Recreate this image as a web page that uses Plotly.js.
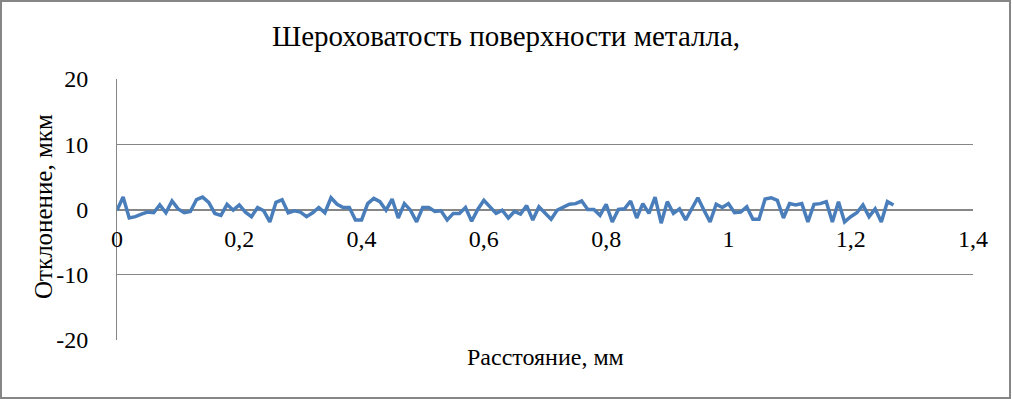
<!DOCTYPE html>
<html>
<head>
<meta charset="utf-8">
<script src="https://cdn.plot.ly/plotly-3.0.1.min.js"></script>
<style>
  html, body { margin: 0; padding: 0; background: #ffffff; }
  #chart { width: 1012px; height: 399px; }
</style>
</head>
<body>
<div id="chart"></div>
<script>
// Distance along the surface, mm
var distanceMm = [
  0.00, 0.01, 0.02, 0.03, 0.04, 0.05, 0.06, 0.07, 0.08, 0.09,
  0.10, 0.11, 0.12, 0.13, 0.14, 0.15, 0.16, 0.17, 0.18, 0.19,
  0.20, 0.21, 0.22, 0.23, 0.24, 0.25, 0.26, 0.27, 0.28, 0.29,
  0.30, 0.31, 0.32, 0.33, 0.34, 0.35, 0.36, 0.37, 0.38, 0.39,
  0.40, 0.41, 0.42, 0.43, 0.44, 0.45, 0.46, 0.47, 0.48, 0.49,
  0.50, 0.51, 0.52, 0.53, 0.54, 0.55, 0.56, 0.57, 0.58, 0.59,
  0.60, 0.61, 0.62, 0.63, 0.64, 0.65, 0.66, 0.67, 0.68, 0.69,
  0.70, 0.71, 0.72, 0.73, 0.74, 0.75, 0.76, 0.77, 0.78, 0.79,
  0.80, 0.81, 0.82, 0.83, 0.84, 0.85, 0.86, 0.87, 0.88, 0.89,
  0.90, 0.91, 0.92, 0.93, 0.94, 0.95, 0.96, 0.97, 0.98, 0.99,
  1.00, 1.01, 1.02, 1.03, 1.04, 1.05, 1.06, 1.07, 1.08, 1.09,
  1.10, 1.11, 1.12, 1.13, 1.14, 1.15, 1.16, 1.17, 1.18, 1.19,
  1.20, 1.21, 1.22, 1.23, 1.24, 1.25, 1.26, 1.27
];

// Deviation of the profile, µm
var deviationUm = [
  -0.1, 1.9, -1.3, -1.1, -0.7, -0.4, -0.5, 0.7, -0.5, 1.3,
   0.1, -0.5, -0.3, 1.5, 1.9, 1.1, -0.6, -0.9, 0.8, -0.1,
   0.7, -0.4, -1.1, 0.3, -0.2, -1.9, 1.1, 1.5, -0.5, -0.2,
  -0.4, -1.1, -0.5, 0.3, -0.5, 1.8, 0.8, 0.3, 0.3, -1.6,
  -1.6, 0.9, 1.7, 1.2, -0.1, 1.6, -1.3, 0.9, -0.1, -1.9,
   0.3, 0.3, -0.3, -0.2, -1.6, -0.6, -0.6, 0.3, -1.8, 0.0,
   1.4, 0.4, -0.6, -0.1, -1.3, -0.3, -0.7, 0.6, -1.6, 0.4,
  -0.6, -1.5, -0.1, 0.4, 0.8, 0.9, 1.3, 0.0, 0.0, -0.9,
   0.8, -1.9, 0.0, 0.1, 1.3, -1.3, 0.9, -0.6, 1.9, -2.1,
   1.2, -0.6, 0.1, -1.6, 0.1, 1.8, -0.1, -1.9, 0.8, 0.3,
   0.9, -0.5, -0.4, 0.4, -1.5, -1.5, 1.6, 1.8, 1.4, -1.3,
   0.9, 0.7, 0.9, -1.9, 0.8, 0.9, 1.2, -1.9, 1.2, -1.9,
  -1.1, -0.5, 0.7, -1.1, 0.1, -1.9, 1.2, 0.7
];

var xTickVals = [0, 0.2, 0.4, 0.6, 0.8, 1, 1.2, 1.4];
var xTickText = ["0", "0,2", "0,4", "0,6", "0,8", "1", "1,2", "1,4"];
var yTickVals = [-20, -10, 0, 10, 20];
var yTickText = ["-20", "-10", "0", "10", "20"];

var chartTitle = "Шероховатость поверхности металла,";
var xTitle = "Расстояние, мм";
var yTitle = "Отклонение, мкм";

var serif = "Liberation Serif";
var axisGray = "#868686";

var trace = {
  x: distanceMm,
  y: deviationUm,
  type: "scatter",
  mode: "lines",
  line: { color: "#4A7EBB", width: 3.5 },
  hoverinfo: "x+y",
  showlegend: false
};

var layout = {
  width: 1012,
  height: 399,
  paper_bgcolor: "#ffffff",
  plot_bgcolor: "#ffffff",
  margin: { l: 117, r: 39, t: 79, b: 59, pad: 0 },
  showlegend: false,
  font: { family: serif, color: "#000000" },
  title: {
    text: chartTitle,
    font: { family: serif, size: 29, color: "#000000" },
    xref: "container", yref: "container",
    x: 0.5, xanchor: "center",
    y: 1 - 36 / 399, yanchor: "middle"
  },
  xaxis: {
    range: [0, 1.4],
    anchor: "free",
    position: 0.5,
    tickmode: "array",
    tickvals: xTickVals,
    ticktext: xTickText,
    ticks: "",
    ticklabelstandoff: 8,
    showline: true,
    linecolor: axisGray,
    linewidth: 1,
    showgrid: false,
    zeroline: false,
    layer: "below traces",
    tickfont: { family: serif, size: 24, color: "#000000" },
    fixedrange: true
  },
  yaxis: {
    range: [-20, 20],
    tickmode: "array",
    tickvals: yTickVals,
    ticktext: yTickText,
    ticks: "",
    ticklabelstandoff: 23,
    showline: true,
    linecolor: axisGray,
    linewidth: 1,
    showgrid: true,
    gridcolor: axisGray,
    gridwidth: 1,
    zeroline: false,
    layer: "below traces",
    tickfont: { family: serif, size: 24, color: "#000000" },
    fixedrange: true
  },
  annotations: [
    {
      text: xTitle,
      xref: "paper", yref: "paper",
      x: 0.5, xanchor: "center",
      y: -(357 - 340) / 261, yanchor: "middle",
      showarrow: false,
      font: { family: serif, size: 24, color: "#000000" }
    },
    {
      text: yTitle,
      xref: "paper", yref: "paper",
      x: (43 - 117) / 856, xanchor: "center",
      y: (340 - 207) / 261, yanchor: "middle",
      textangle: -90,
      showarrow: false,
      font: { family: serif, size: 25, color: "#000000" }
    }
  ],
  shapes: [
    {
      type: "rect",
      xref: "paper", yref: "paper",
      x0: -116 / 856, x1: (1010 - 117) / 856,
      y0: -(398 - 340) / 261, y1: (340 - 1) / 261,
      line: { color: axisGray, width: 2 },
      fillcolor: "rgba(0,0,0,0)",
      layer: "below"
    }
  ]
};

Plotly.newPlot("chart", [trace], layout, { displayModeBar: false, staticPlot: true });
</script>
</body>
</html>
